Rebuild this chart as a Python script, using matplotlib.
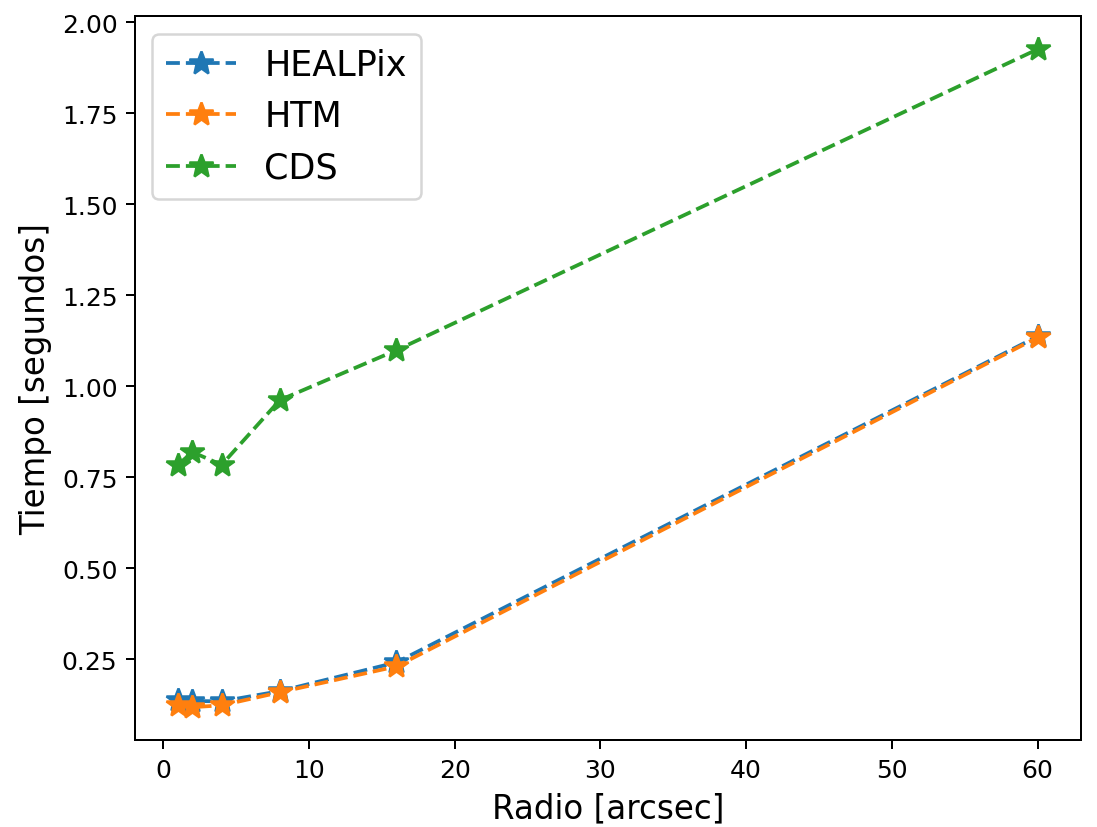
import matplotlib
matplotlib.use("Agg")
import matplotlib.pyplot as plt

# search radius in arcsec
radio = [1, 2, 4, 8, 16, 60]

# query times in seconds
t_healpix = [0.137, 0.135, 0.134, 0.162, 0.241, 1.137]
t_htm = [0.123, 0.118, 0.123, 0.159, 0.230, 1.134]
t_cds = [0.784, 0.819, 0.784, 0.962, 1.099, 1.926]

fig, ax = plt.subplots(figsize=(1097 / 180, 828 / 180), dpi=180)
fig.subplots_adjust(left=0.123, right=0.985, top=0.979, bottom=0.105)

ax.plot(radio, t_healpix, '--*', markersize=10, label='HEALPix')
ax.plot(radio, t_htm, '--*', markersize=10, label='HTM')
ax.plot(radio, t_cds, '--*', markersize=10, label='CDS')

ax.set_xlabel('Radio [arcsec]', fontsize=13)
ax.set_ylabel('Tiempo [segundos]', fontsize=13)
ax.legend(fontsize=14)

fig.savefig('out.png', dpi=180)
